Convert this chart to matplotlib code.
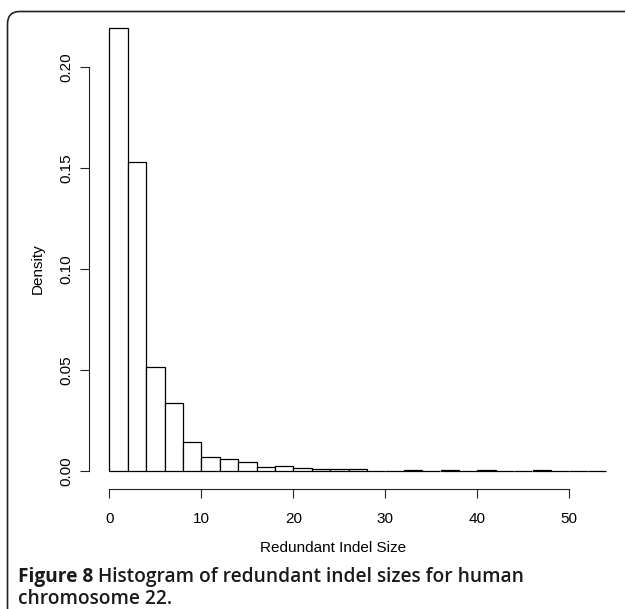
import matplotlib
matplotlib.use("Agg")
import matplotlib.pyplot as plt
from matplotlib.patches import FancyBboxPatch
import numpy as np

# Histogram data: bin edges (width 2) and densities
bin_edges = list(range(0, 56, 2))
densities = [0.2195, 0.1528, 0.0515, 0.0337, 0.0145, 0.0071, 0.0058, 0.0046,
             0.0018, 0.0026, 0.0013, 0.0010, 0.0008, 0.0012, 0.0002, 0.0002,
             0.0004, 0.0002, 0.0003, 0.0002, 0.0003, 0.0001, 0.0001, 0.0004,
             0.0001, 0.0001, 0.0001]
x_ticks = [0, 10, 20, 30, 40, 50]
y_ticks = [0.00, 0.05, 0.10, 0.15, 0.20]
y_tick_labels = ["0.00", "0.05", "0.10", "0.15", "0.20"]
x_label = "Redundant Indel Size"
y_label = "Density"
caption_bold = "Figure 8"
caption_rest = " Histogram of redundant indel sizes for human"
caption_line2 = "chromosome 22."

W, H = 625, 609
DPI = 100
fig = plt.figure(figsize=(W / DPI, H / DPI), dpi=DPI)
fig.patch.set_facecolor("white")

# axes in pixels: data x=0 at 109.3, 9.2 px per unit; y=0 at 471, 2020 px per unit
x0_px, px_per_x = 109.3, 9.2
y0_px, px_per_y = 471.0, 2020.0
xmax, ymax = 54.0, 0.22
left = x0_px / W
bottom = 1 - y0_px / H
width = xmax * px_per_x / W
height = ymax * px_per_y / H
ax = fig.add_axes([left, bottom, width, height])
ax.set_xlim(0, xmax)
ax.set_ylim(0, ymax)

font = "Liberation Sans"
lefts = bin_edges[:-1]
bars = ax.bar(lefts, densities, width=2, align="edge", facecolor="white",
              edgecolor="black", linewidth=0.9)
for b in bars:
    b.set_clip_on(False)

for s in ["top", "right"]:
    ax.spines[s].set_visible(False)
pt = 72 / DPI
ax.spines["left"].set_position(("outward", 20 * pt))
ax.spines["bottom"].set_position(("outward", 18 * pt))
ax.spines["left"].set_bounds(0, 0.2)
ax.spines["bottom"].set_bounds(0, 50)
for s in ["left", "bottom"]:
    ax.spines[s].set_linewidth(0.8)
    ax.spines[s].set_color("#222222")

ax.set_xticks(x_ticks)
ax.set_xticklabels([str(t) for t in x_ticks], fontname=font, fontsize=11)
ax.set_yticks(y_ticks)
ax.set_yticklabels(y_tick_labels, fontname=font, fontsize=11,
                   rotation=90, va="center")
ax.tick_params(axis="both", length=9 * pt, width=0.8, color="#222222")
ax.tick_params(axis="y", pad=5)
ax.tick_params(axis="x", pad=10)

fig.text(333 / W, 1 - 548 / H, x_label, fontname=font, fontsize=11,
         ha="center", va="center")
fig.text(38 / W, 1 - 269 / H, y_label, fontname=font, fontsize=11,
         ha="center", va="center", rotation=90)

# caption
cap_font = "Open Sans"
cap_size = 13.8
t1 = fig.text(18 / W, 1 - 582 / H, caption_bold, fontname=cap_font,
              fontsize=cap_size, fontweight="bold", ha="left", va="baseline",
              color="#1a1a1a")
fig.canvas.draw()
r = fig.canvas.get_renderer()
bb = t1.get_window_extent(renderer=r)
fig.text(bb.x1 / W, 1 - 582 / H, caption_rest, fontname=cap_font,
         fontsize=cap_size, fontweight="semibold", ha="left", va="baseline",
         color="#1a1a1a")
fig.text(18 / W, 1 - 604.5 / H, caption_line2, fontname=cap_font,
         fontsize=cap_size, fontweight="semibold", ha="left", va="baseline",
         color="#1a1a1a")

# rounded frame (open to the right and bottom)
frame = FancyBboxPatch((7.5 / W, -0.1), 1.2, (1 - 11.5 / H) + 0.1,
                       boxstyle="round,pad=0,rounding_size=0.02",
                       transform=fig.transFigure, facecolor="none",
                       edgecolor="#222222", linewidth=1.2, clip_on=False,
                       mutation_aspect=W / H)
fig.patches.append(frame)

fig.savefig("out.png", dpi=DPI, facecolor="white")
